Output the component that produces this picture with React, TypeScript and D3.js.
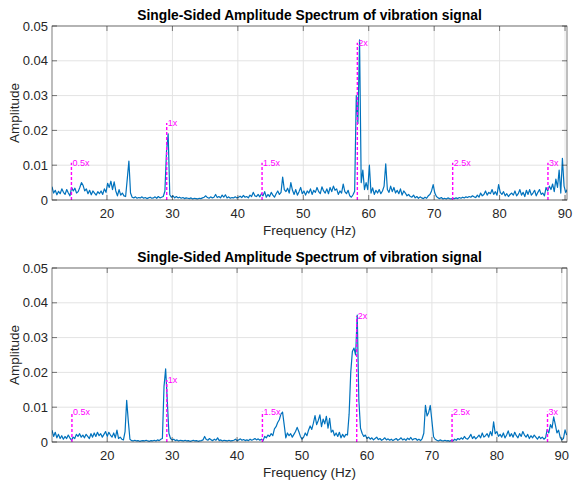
import React from 'react';
import * as d3 from 'd3';

const width = 574;
const height = 485;
const plotLeft = 52;
const plotRight = 567;
const binWidth = 0.25; // spacing of the FFT bins, Hz

const titleText = 'Single-Sided Amplitude Spectrum of vibration signal';
const xTicks = [20, 30, 40, 50, 60, 70, 80, 90];
const yTicks = [0, 0.01, 0.02, 0.03, 0.04, 0.05];
const yTickLabels = ['0', '0.01', '0.02', '0.03', '0.04', '0.05'];
const harmonicLabels = ['0.5x', '1x', '1.5x', '2x', '2.5x', '3x'];

// ---- upper spectrum (amplitude x 1e-3, one row per Hz) ----
const topFreqStart = 11.6;
const topXDomain = [11.6, 90.3];
const topAmp = [
  3.8, 2.0, 2.8, 1.5,
  2.5, 1.8, 3.2, 2.2,
  1.6, 3.0, 2.0, 1.2,
  3.6, 2.6, 3.4, 2.0,
  2.4, 3.6, 5.0, 4.2,
  2.6, 3.2, 1.8, 2.8,
  1.5, 2.6, 2.0, 1.4,
  2.4, 1.8, 2.6, 1.6,
  3.2, 2.2, 4.8, 3.6,
  5.4, 3.0, 5.2, 2.6,
  1.2, 3.0, 1.4, 2.0,
  1.2, 1.0, 6.0, 11.2,
  2.0, 0.8, 0.6, 0.9,
  0.5, 0.7, 0.6, 0.9,
  0.5, 0.7, 0.4, 0.6,
  0.8, 0.5, 0.6, 0.9,
  0.5, 1.0, 0.6, 0.8,
  1.0, 2.5, 14.0, 19.0,
  1.5, 0.8, 1.2, 0.6,
  1.0, 0.6, 0.8, 0.5,
  0.7, 0.4, 0.6, 0.5,
  0.4, 0.6, 0.3, 0.5,
  0.4, 0.3, 0.5, 0.4,
  0.6, 0.8, 1.2, 0.7,
  0.5, 0.9, 0.6, 0.8,
  1.6, 0.7, 1.0, 0.6,
  1.4, 0.8, 1.5, 0.6,
  0.9, 0.5, 0.7, 0.6,
  0.9, 0.6, 0.8, 1.1,
  0.7, 1.3, 0.8, 1.0,
  0.6, 1.4, 1.0, 2.2,
  1.2, 1.0, 1.6, 0.9,
  1.8, 1.2, 2.4, 0.8,
  1.6, 1.0, 2.2, 1.4,
  0.8, 1.8, 2.6, 1.6,
  2.2, 6.6, 3.0, 2.4,
  3.4, 2.0, 5.0, 2.8,
  1.6, 3.0, 1.4, 2.4,
  3.6, 1.8, 2.6, 1.4,
  2.6, 2.0, 3.2, 1.6,
  2.8, 2.2, 3.6, 2.4,
  1.8, 3.8, 2.6, 2.0,
  3.2, 1.8, 3.6, 2.4,
  4.0, 2.8, 3.2, 1.6,
  2.6, 2.0, 4.6, 2.4,
  1.8, 2.8, 1.2, 0.8,
  1.5, 2.5, 30.0, 22.0,
  46.0, 5.0, 8.6, 3.0,
  5.0, 3.0, 10.0, 2.0,
  3.5, 1.6, 2.8, 2.0,
  3.0, 1.8, 2.6, 4.0,
  10.4, 3.0, 2.2, 4.0,
  2.4, 3.6, 2.0, 2.8,
  1.8, 3.2, 1.4, 2.6,
  2.0, 1.2, 1.6, 1.0,
  0.8, 1.4, 0.6, 1.0,
  0.5, 0.9, 0.6, 0.4,
  0.8, 0.5, 1.2, 1.6,
  2.6, 4.4, 2.0, 1.0,
  0.6, 0.4, 0.7, 0.3,
  0.5, 0.3, 0.6, 0.4,
  0.3, 0.5, 0.4, 0.6,
  0.4, 0.7, 0.5, 0.8,
  0.6, 0.9, 0.7, 1.0,
  0.8, 1.2, 0.9, 0.7,
  1.4, 0.8, 2.0, 1.2,
  1.6, 2.6, 1.4, 2.2,
  1.8, 3.0, 1.6, 2.4,
  1.4, 4.4, 2.2, 1.6,
  2.4, 1.2, 1.8, 1.0,
  1.6, 2.0, 1.4, 2.6,
  1.2, 1.8, 3.0, 1.4,
  2.2, 1.0, 2.8, 1.6,
  3.0, 1.4, 2.0, 2.8,
  1.2, 2.2, 3.0, 1.6,
  2.0, 1.2, 3.6, 2.6,
  4.0, 3.0, 4.6, 2.4,
  6.0, 3.6, 8.6, 2.0,
  12.0, 4.0, 2.2, 3.0,
];
const topHarmonicFreqs = [14.57, 29.13, 43.7, 58.26, 72.83, 87.39];
const topHarmonicHeights = [0.0107, 0.0221, 0.0107, 0.0452, 0.0107, 0.0107];

// ---- lower spectrum (amplitude x 1e-3, one row per Hz) ----
const bottomFreqStart = 11.5;
const bottomXDomain = [11.5, 90.8];
const bottomAmp = [
  3.4, 1.6, 2.8, 1.2,
  2.2, 1.0, 1.8, 0.8,
  1.6, 1.0, 2.0, 1.2,
  0.5, 1.4, 1.0, 2.2,
  1.6, 2.4, 1.4, 2.0,
  1.2, 2.2, 1.6, 1.0,
  2.4, 1.4, 2.6, 1.6,
  2.8, 1.8, 2.4, 1.4,
  2.2, 3.0, 1.6, 2.8,
  2.0, 1.4, 2.6, 1.2,
  3.4, 1.0, 1.4, 0.8,
  0.6, 3.0, 12.0, 6.0,
  0.8, 0.4, 0.3, 0.5,
  0.3, 0.4, 0.2, 0.3,
  0.4, 0.3, 0.5, 0.3,
  0.2, 0.4, 0.3, 0.5,
  0.3, 0.6, 0.4, 0.8,
  1.0, 16.0, 21.0, 12.0,
  2.5, 1.0, 0.6, 0.8,
  0.4, 0.6, 0.3, 0.5,
  0.4, 0.3, 0.5, 0.3,
  0.4, 0.2, 0.3, 0.5,
  0.3, 0.4, 0.2, 0.3,
  0.4, 0.6, 1.6, 0.7,
  0.5, 1.0, 0.6, 0.4,
  0.8, 0.5, 1.2, 0.4,
  0.6, 0.3, 0.5, 0.4,
  0.3, 0.5, 0.3, 0.4,
  0.5, 0.8, 0.4, 0.6,
  0.9, 0.5, 0.7, 0.4,
  0.6, 0.4, 0.8, 0.5,
  0.7, 1.0, 0.6, 0.9,
  0.5, 0.8, 0.4, 1.6,
  1.2, 2.0, 1.6, 2.4,
  1.8, 3.8, 4.4, 5.6,
  6.4, 8.0, 8.6, 5.0,
  1.2, 2.6, 1.8, 2.4,
  1.4, 2.2, 3.0, 4.2,
  3.0, 1.6, 0.8, 1.4,
  2.6, 1.8, 3.4, 4.6,
  3.6, 5.4, 7.6, 5.0,
  6.2, 7.8, 4.4, 6.6,
  5.2, 7.4, 4.0, 6.8,
  2.8, 3.4, 1.8, 2.6,
  1.6, 2.8, 1.2, 2.2,
  1.4, 2.2, 2.0, 8.0,
  20.0, 26.0, 27.0, 25.0,
  36.5, 12.0, 4.0, 2.5,
  1.6, 2.0, 1.0, 1.4,
  0.8, 1.2, 0.6, 1.0,
  1.4, 0.7, 1.0, 0.5,
  0.8, 1.2, 0.6, 0.9,
  0.5, 0.8, 0.4, 0.7,
  1.0, 0.5, 0.8, 1.2,
  0.6, 0.9, 0.5, 1.1,
  0.7, 1.3, 0.6, 0.9,
  1.0, 0.5, 0.8, 0.4,
  1.0, 2.5, 10.5, 7.5,
  8.5, 10.5, 6.0, 1.5,
  0.8, 0.5, 0.3, 0.6,
  0.4, 0.3, 0.5, 0.3,
  0.4, 0.2, 0.5, 0.3,
  0.8, 0.5, 1.0, 0.7,
  1.2, 0.8, 1.6, 1.0,
  0.8, 1.4, 2.2, 1.0,
  1.6, 0.9, 1.4, 2.0,
  1.2, 2.6, 1.4, 1.8,
  2.4, 1.4, 3.0, 1.8,
  5.8, 2.4, 3.0, 1.6,
  2.2, 1.4, 2.6, 1.2,
  2.0, 3.2, 1.6, 2.4,
  1.4, 2.8, 1.8, 1.2,
  2.4, 1.6, 3.0, 2.0,
  1.4, 2.2, 1.0, 1.8,
  1.2, 2.0, 1.4, 0.8,
  1.6, 1.0, 1.4, 0.8,
  1.2, 3.6, 2.6, 5.0,
  4.0, 7.2, 5.0, 2.6,
  3.4, 1.4, 0.6, 1.0,
  3.5, 2.0,
];
const bottomHarmonicFreqs = [14.57, 29.18, 43.9, 58.42, 73.1, 87.8];
const bottomHarmonicHeights = [0.0086, 0.0178, 0.0087, 0.0362, 0.0087, 0.0087];

const lineColor = '#0072BD';
const markerColor = '#FF00FF';
const axisColor = '#262626';
const gridColor = '#e3e3e3';
const font = 'Arial, "Liberation Sans", Helvetica, sans-serif';

type PanelProps = {
  id: string;
  top: number;
  bottom: number;
  xDomain: number[];
  freqStart: number;
  amp: number[];
  harmonicFreqs: number[];
  harmonicHeights: number[];
};

function SpectrumPanel({ id, top, bottom, xDomain, freqStart, amp, harmonicFreqs, harmonicHeights }: PanelProps) {
  const x = d3.scaleLinear().domain(xDomain).range([plotLeft, plotRight]);
  const y = d3.scaleLinear().domain([0, 0.05]).range([bottom, top]);

  const points = amp.map((a, i) => ({ f: freqStart + i * binWidth, a: a / 1000 }));
  const line = d3.line<{ f: number; a: number }>()
    .x(d => x(d.f))
    .y(d => y(d.a));

  const midX = (plotLeft + plotRight) / 2;
  const tickLen = 5;

  return (
    <g>
      <defs>
        <clipPath id={`clip-${id}`}>
          <rect x={plotLeft} y={top} width={plotRight - plotLeft} height={bottom - top} />
        </clipPath>
      </defs>

      <rect x={plotLeft} y={top} width={plotRight - plotLeft} height={bottom - top} fill="#fff" />

      {/* grid */}
      {xTicks.map(t => (
        <line key={`gx${t}`} x1={x(t)} x2={x(t)} y1={top} y2={bottom} stroke={gridColor} strokeWidth={1} />
      ))}
      {yTicks.map(t => (
        <line key={`gy${t}`} x1={plotLeft} x2={plotRight} y1={y(t)} y2={y(t)} stroke={gridColor} strokeWidth={1} />
      ))}

      {/* spectrum */}
      <path d={line(points) || ''} fill="none" stroke={lineColor} strokeWidth={1.2}
        strokeLinejoin="round" clipPath={`url(#clip-${id})`} />

      {/* harmonic markers */}
      {harmonicFreqs.map((f, i) => (
        <g key={`h${i}`}>
          <line x1={x(f)} x2={x(f)} y1={y(0)} y2={y(harmonicHeights[i])}
            stroke={markerColor} strokeWidth={1.4} strokeDasharray="3,2" />
          <text x={x(f) + 1} y={y(harmonicHeights[i])} dy="0.35em" fontSize={9}
            fontFamily={font} fill={markerColor}>{harmonicLabels[i]}</text>
        </g>
      ))}

      {/* box and ticks */}
      <rect x={plotLeft} y={top} width={plotRight - plotLeft} height={bottom - top}
        fill="none" stroke={axisColor} strokeWidth={0.6} />
      {xTicks.map(t => (
        <g key={`tx${t}`}>
          <line x1={x(t)} x2={x(t)} y1={bottom} y2={bottom - tickLen} stroke={axisColor} strokeWidth={0.6} />
          <line x1={x(t)} x2={x(t)} y1={top} y2={top + tickLen} stroke={axisColor} strokeWidth={0.6} />
          <text x={x(t)} y={bottom + 18} textAnchor="middle" fontSize={13} fontFamily={font} fill={axisColor}>{t}</text>
        </g>
      ))}
      {yTicks.map((t, i) => (
        <g key={`ty${t}`}>
          <line x1={plotLeft} x2={plotLeft + tickLen} y1={y(t)} y2={y(t)} stroke={axisColor} strokeWidth={0.6} />
          <line x1={plotRight} x2={plotRight - tickLen} y1={y(t)} y2={y(t)} stroke={axisColor} strokeWidth={0.6} />
          <text x={plotLeft - 4} y={y(t)} dy="0.35em" textAnchor="end" fontSize={13} fontFamily={font} fill={axisColor}>{yTickLabels[i]}</text>
        </g>
      ))}

      {/* labels */}
      <text x={midX} y={top - 6.5} textAnchor="middle" fontSize={13.8} fontWeight="bold" fontFamily={font} fill="#000">{titleText}</text>
      <text x={midX} y={bottom + 35} textAnchor="middle" fontSize={13.5} fontFamily={font} fill={axisColor}>Frequency (Hz)</text>
      <text transform={`translate(19, ${(top + bottom) / 2}) rotate(-90)`} textAnchor="middle" fontSize={13.5}
        fontFamily={font} fill={axisColor}>Amplitude</text>
    </g>
  );
}

export default function App() {
  return (
    <div style={{ position: 'absolute', left: 0, top: 0 }}>
      <svg width={width} height={height} style={{ display: 'block', background: '#fff' }}>
        <SpectrumPanel id="top" top={26} bottom={200} xDomain={topXDomain} freqStart={topFreqStart}
          amp={topAmp} harmonicFreqs={topHarmonicFreqs} harmonicHeights={topHarmonicHeights} />
        <SpectrumPanel id="bottom" top={268} bottom={442} xDomain={bottomXDomain} freqStart={bottomFreqStart}
          amp={bottomAmp} harmonicFreqs={bottomHarmonicFreqs} harmonicHeights={bottomHarmonicHeights} />
      </svg>
    </div>
  );
}
